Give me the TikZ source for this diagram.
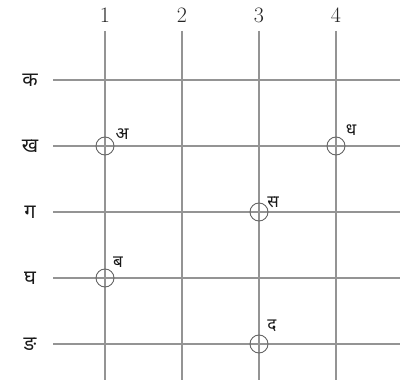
\documentclass[tikz,border=0pt]{standalone}
\usepackage{fontspec}
\newfontfamily\deva[Script=Devanagari]{Noto Sans}
\begin{document}
\begin{tikzpicture}[x=1pt,y=-1pt,
  gridline/.style={draw=black!42,line width=1.8pt},
  ring/.style={circle,draw=black!60,line width=0.9pt,minimum size=18pt,inner sep=0pt},
  collab/.style={font=\fontsize{22}{22}\selectfont,text=black!85},
  rowlab/.style={font=\deva\fontsize{20}{20}\selectfont,text=black!90},
  ptlab/.style={font=\deva\fontsize{17}{17}\selectfont,text=black!90,inner sep=0pt}]
\useasboundingbox (0,0) rectangle (400,385);
% column labels
\foreach \i/\x in {1/105,2/182,3/259,4/336}{
  \node[collab] (c\i) at (\x,15) {\i};
  \coordinate (ct\i) at (\x,31);
  \coordinate (cb\i) at (\x,380);
  \draw[gridline] (ct\i) -- (cb\i);
}
% row labels
\foreach \j/\y/\t in {1/80/क,2/146/ख,3/212/ग,4/278/घ,5/344/ङ}{
  \node[rowlab] (r\j) at (30,\y) {\t};
  \coordinate (rl\j) at (53,\y);
  \coordinate (rr\j) at (400,\y);
  \draw[gridline] (rl\j) -- (rr\j);
}
% points
\node[ring] (pa) at (105,146) {};
\node[ring] (pdh) at (336,146) {};
\node[ring] (ps) at (259,212) {};
\node[ring] (pb) at (105,278) {};
\node[ring] (pd) at (259,344) {};
\node[ptlab] (la) at (122,134) {अ};
\node[ptlab] (ldh) at (351,130) {ध};
\node[ptlab] (ls) at (273,202) {स};
\node[ptlab] (lb) at (118,262) {ब};
\node[ptlab] (ld) at (272,326) {द};
\end{tikzpicture}
\end{document}
